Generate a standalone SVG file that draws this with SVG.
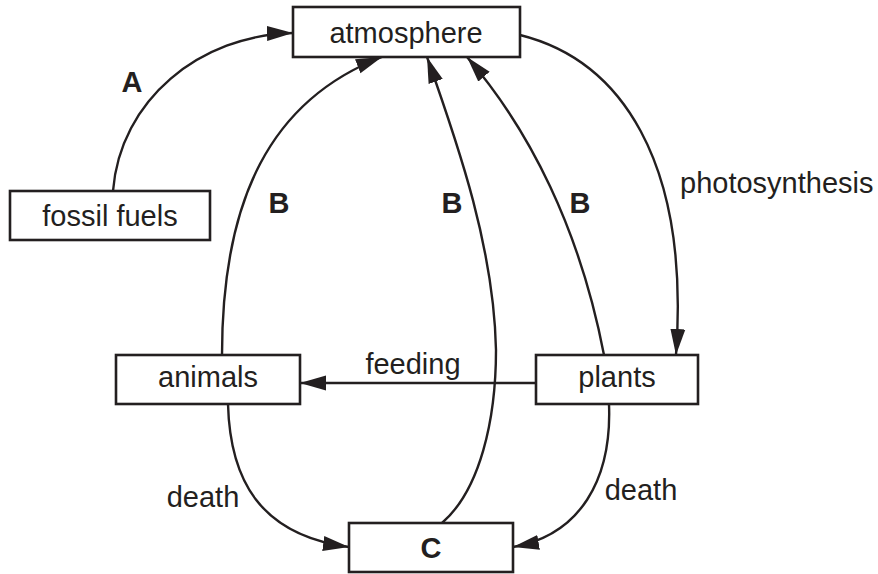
<svg xmlns="http://www.w3.org/2000/svg" width="878" height="574" viewBox="0 0 878 574">
<style>
.box{fill:#fff;stroke:#231f20;stroke-width:2.6}
.t{font-family:"Liberation Sans",Arial,sans-serif;font-size:29px;fill:#231f20;text-anchor:middle}
.b{font-weight:bold}
.c{fill:none;stroke:#231f20;stroke-width:2.4;marker-end:url(#ah)}
</style>
<defs>
<marker id="ah" markerUnits="userSpaceOnUse" markerWidth="30" markerHeight="18" refX="26" refY="8" orient="auto" viewBox="0 0 30 18">
<path d="M0,0.5 L26,8 L0,15.5 z" fill="#231f20"/>
</marker>
</defs>
<rect width="878" height="574" fill="#fff"/>
<g id="connectors">
<path class="c" d="M113,191 C120,100 200,35 293,33"/>
<path class="c" d="M222,355 C222,200 270,100 382,57"/>
<path class="c" d="M442,523 C480,490 496,420 496,350 C494,250 460,150 427,57"/>
<path class="c" d="M604,355 C580,230 530,130 467,57"/>
<path class="c" d="M520,35 C620,60 690,160 676,355"/>
<path class="c" d="M536,383 L300,383"/>
<path class="c" d="M228,404 C230,480 260,535 349,547"/>
<path class="c" d="M609,404 C612,480 580,535 513,547"/>
</g>
<g id="atmosphere"><rect class="box" x="293" y="7" width="227" height="50"/><text class="t" x="406" y="43">atmosphere</text></g>
<g id="fossil-fuels"><rect class="box" x="10" y="191" width="200" height="49"/><text class="t" x="110" y="226">fossil fuels</text></g>
<g id="animals"><rect class="box" x="116" y="355" width="184" height="49"/><text class="t" x="208" y="387">animals</text></g>
<g id="plants"><rect class="box" x="536" y="355" width="162" height="49"/><text class="t" x="617" y="387">plants</text></g>
<g id="C"><rect class="box" x="349" y="523" width="164" height="49"/><text class="t b" x="431" y="558">C</text></g>
<g id="labels">
<text class="t b" x="132" y="92">A</text>
<text class="t b" x="279" y="213">B</text>
<text class="t b" x="452" y="213">B</text>
<text class="t b" x="580" y="213">B</text>
<text class="t" x="680" y="193" style="text-anchor:start">photosynthesis</text>
<text class="t" x="413" y="374">feeding</text>
<text class="t" x="203" y="507">death</text>
<text class="t" x="641" y="500">death</text>
</g>
</svg>
